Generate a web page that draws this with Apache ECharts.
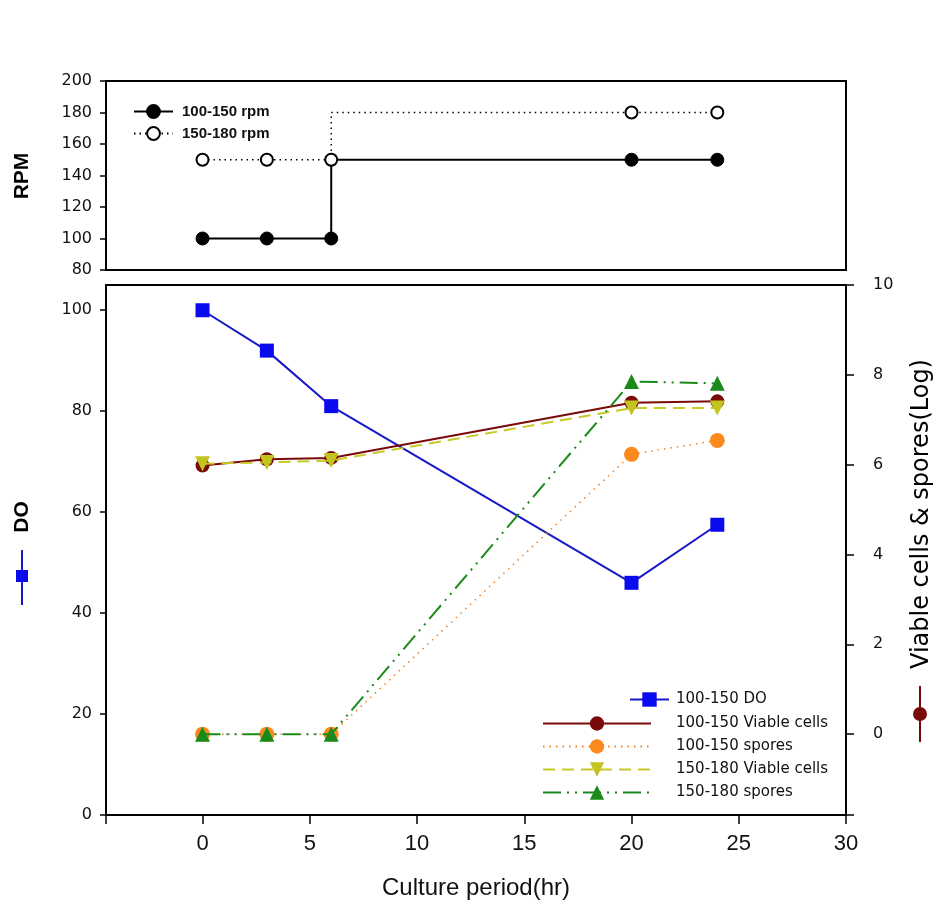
<!DOCTYPE html>
<html>
<head>
<meta charset="utf-8">
<script src="https://cdn.jsdelivr.net/npm/echarts@6/dist/echarts.min.js"></script>
<style>
html,body{margin:0;padding:0;background:#fff;}
#chart{width:942px;height:911px;}
</style>
</head>
<body>
<div id="chart"></div>
<script>
// ---- Data ----
const hours = [0, 3, 6, 20, 24];
// RPM schedules (step change at 6 h)
const rpm100_150 = [100, 100, 100, 150, 150];
const rpm150_180 = [150, 150, 150, 180, 180];
const rpmStepHour = 6;
// Bottom panel
const doValues = [100, 92, 81, 46, 57.5];
const viable100_150 = [5.98, 6.12, 6.15, 7.38, 7.41];
const spores100_150 = [0, 0, 0, 6.23, 6.54];
const viable150_180 = [6.02, 6.05, 6.09, 7.26, 7.26];
const spores150_180 = [0, 0, 0, 7.85, 7.81];
// Tick labels
const xTicks = [0, 5, 10, 15, 20, 25, 30];
const doTicks = [0, 20, 40, 60, 80, 100];
const logTicks = [0, 2, 4, 6, 8, 10];
const rpmTicks = [80, 100, 120, 140, 160, 180, 200];
// Series names
const rpmNames = ['100-150 rpm', '150-180 rpm'];
const lowerNames = ['100-150 DO', '100-150 Viable cells', '100-150 spores', '150-180 Viable cells', '150-180 spores'];

const X_MIN = -4.5, X_MAX = 30;
const LOG_MIN = -1.8, LOG_MAX = 10;

function pairs(ys) { return hours.map((h, i) => [h, ys[i]]); }
function stepPairs(ys) {
  const out = [];
  hours.forEach((h, i) => {
    if (i > 0 && hours[i - 1] === rpmStepHour && ys[i] !== ys[i - 1]) {
      out.push({ value: [rpmStepHour, ys[i]], symbol: 'none' });
    }
    out.push([h, ys[i]]);
  });
  return out;
}

const tickFont = 'DejaVu Sans';
const axisLineStyle = { color: '#000', width: 2 };

const chart = echarts.init(document.getElementById('chart'), null, { renderer: 'canvas' });

const option = {
  backgroundColor: '#fff',
  animation: false,
  grid: [
    { left: 106, top: 81, width: 740, height: 189, show: true, borderColor: '#000', borderWidth: 2, backgroundColor: 'transparent' },
    { left: 106, top: 285, width: 740, height: 530, show: true, borderColor: '#000', borderWidth: 2, backgroundColor: 'transparent' }
  ],
  xAxis: [
    { type: 'value', gridIndex: 0, min: X_MIN, max: X_MAX, show: false, axisLine: { onZero: false }, splitLine: { show: false } },
    {
      type: 'value', gridIndex: 1, min: X_MIN, max: X_MAX,
      axisLine: { show: true, onZero: false, lineStyle: axisLineStyle },
      axisTick: { show: true, inside: false, length: 9, lineStyle: { color: '#000', width: 1.5 }, customValues: [X_MIN].concat(xTicks) },
      axisLabel: { show: true, customValues: xTicks, margin: 18, color: '#111', fontFamily: 'Liberation Sans Narrow, Liberation Sans, Arial', fontSize: 22 },
      splitLine: { show: false }
    }
  ],
  yAxis: [
    {
      type: 'value', gridIndex: 0, min: 80, max: 200, interval: 20,
      axisLine: { show: true, onZero: false, lineStyle: axisLineStyle },
      axisTick: { show: true, inside: false, length: 6, lineStyle: { color: '#000', width: 1.5 }, customValues: rpmTicks },
      axisLabel: { show: true, customValues: rpmTicks, margin: 14, color: '#111', fontFamily: tickFont, fontSize: 16 },
      splitLine: { show: false }
    },
    {
      type: 'value', gridIndex: 1, min: 0, max: 105, position: 'left',
      axisLine: { show: true, onZero: false, lineStyle: axisLineStyle },
      axisTick: { show: true, inside: false, length: 6, lineStyle: { color: '#000', width: 1.5 }, customValues: doTicks },
      axisLabel: { show: true, customValues: doTicks, margin: 14, color: '#111', fontFamily: tickFont, fontSize: 16 },
      splitLine: { show: false }
    },
    {
      type: 'value', gridIndex: 1, min: LOG_MIN, max: LOG_MAX, position: 'right',
      axisLine: { show: true, onZero: false, lineStyle: axisLineStyle },
      axisTick: { show: true, inside: false, length: 8, lineStyle: { color: '#000', width: 1.5 }, customValues: [LOG_MIN].concat(logTicks) },
      axisLabel: { show: true, customValues: logTicks, margin: 27, color: '#111', fontFamily: tickFont, fontSize: 16 },
      splitLine: { show: false }
    }
  ],
  legend: [
    {
      data: rpmNames, orient: 'vertical', left: 128, top: 99, itemWidth: 39, itemHeight: 16, itemGap: 7,
      textStyle: { fontFamily: 'Liberation Sans', fontWeight: 'bold', fontSize: 15, color: '#111', padding: [0, 0, 0, 4] },
      selectedMode: false
    },
    {
      data: [lowerNames[0]], orient: 'vertical', left: 624, top: 687, itemWidth: 39, itemHeight: 18,
      textStyle: { fontFamily: 'DejaVu Sans', fontSize: 15, color: '#111', padding: [0, 0, 0, 2] },
      selectedMode: false
    },
    {
      data: lowerNames.slice(1), orient: 'vertical', left: 537, top: 711, itemWidth: 108, itemHeight: 18, itemGap: 8,
      textStyle: { fontFamily: 'DejaVu Sans', fontSize: 15, color: '#111', padding: [0, 0, 0, 20] },
      selectedMode: false
    }
  ],
  series: [
    {
      name: rpmNames[0], type: 'line', xAxisIndex: 0, yAxisIndex: 0,
      data: stepPairs(rpm100_150),
      symbol: 'circle', symbolSize: 13,
      itemStyle: { color: '#000', borderColor: '#000', borderWidth: 1 },
      lineStyle: { color: '#000', width: 2, type: 'solid' }, z: 3
    },
    {
      name: rpmNames[1], type: 'line', xAxisIndex: 0, yAxisIndex: 0,
      data: stepPairs(rpm150_180),
      symbol: 'circle', symbolSize: 12,
      itemStyle: { color: '#fff', borderColor: '#000', borderWidth: 2 },
      lineStyle: { color: '#000', width: 1.5, type: [1.5, 4] }, z: 4
    },
    {
      name: lowerNames[0], type: 'line', xAxisIndex: 1, yAxisIndex: 1,
      data: pairs(doValues),
      symbol: 'rect', symbolSize: 14,
      itemStyle: { color: '#0a0aee' },
      lineStyle: { color: '#1818c8', width: 2 }, z: 3
    },
    {
      name: lowerNames[1], type: 'line', xAxisIndex: 1, yAxisIndex: 2,
      data: pairs(viable100_150),
      symbol: 'circle', symbolSize: 14,
      itemStyle: { color: '#7a0a0a' },
      lineStyle: { color: '#7a0a0a', width: 2 }, z: 4
    },
    {
      name: lowerNames[2], type: 'line', xAxisIndex: 1, yAxisIndex: 2,
      data: pairs(spores100_150),
      symbol: 'circle', symbolSize: 15,
      itemStyle: { color: '#fb8a1e' },
      lineStyle: { color: '#f08020', width: 1.5, type: [1.5, 5] }, z: 5
    },
    {
      name: lowerNames[3], type: 'line', xAxisIndex: 1, yAxisIndex: 2,
      data: pairs(viable150_180),
      symbol: 'triangle', symbolRotate: 180, symbolSize: 15,
      itemStyle: { color: '#c4c41e' },
      lineStyle: { color: '#c8c828', width: 2, type: [12, 7] }, z: 6
    },
    {
      name: lowerNames[4], type: 'line', xAxisIndex: 1, yAxisIndex: 2,
      data: pairs(spores150_180),
      symbol: 'triangle', symbolSize: 15,
      itemStyle: { color: '#1a8a1a' },
      lineStyle: { color: '#1a8a1a', width: 2, type: [18, 6, 2, 6, 2, 6] }, z: 7
    }
  ],
  graphic: [
    { type: 'text', x: 22, y: 176, rotation: Math.PI / 2,
      style: { text: 'RPM', font: 'bold 21px "Liberation Sans", Arial', fill: '#000', align: 'center', verticalAlign: 'middle' } },
    { type: 'text', x: 22, y: 517, rotation: Math.PI / 2,
      style: { text: 'DO', font: 'bold 21px "Liberation Sans", Arial', fill: '#000', align: 'center', verticalAlign: 'middle' } },
    { type: 'line', shape: { x1: 22, y1: 550, x2: 22, y2: 605 }, style: { stroke: '#1818c8', lineWidth: 2 } },
    { type: 'rect', shape: { x: 16, y: 570, width: 12, height: 12 }, style: { fill: '#0a0aee' } },
    { type: 'text', x: 922, y: 514, rotation: Math.PI / 2,
      style: { text: 'Viable cells & spores(Log)', font: '24px "DejaVu Sans"', fill: '#000', align: 'center', verticalAlign: 'middle' } },
    { type: 'line', shape: { x1: 920, y1: 686, x2: 920, y2: 742 }, style: { stroke: '#7a0a0a', lineWidth: 2 } },
    { type: 'circle', shape: { cx: 920, cy: 714, r: 7 }, style: { fill: '#7a0a0a' } },
    { type: 'text', x: 476, y: 888,
      style: { text: 'Culture period(hr)', font: '24px "Liberation Sans Narrow", "Liberation Sans", Arial', fill: '#111', align: 'center', verticalAlign: 'middle' } }
  ]
};

chart.setOption(option);
</script>
</body>
</html>
